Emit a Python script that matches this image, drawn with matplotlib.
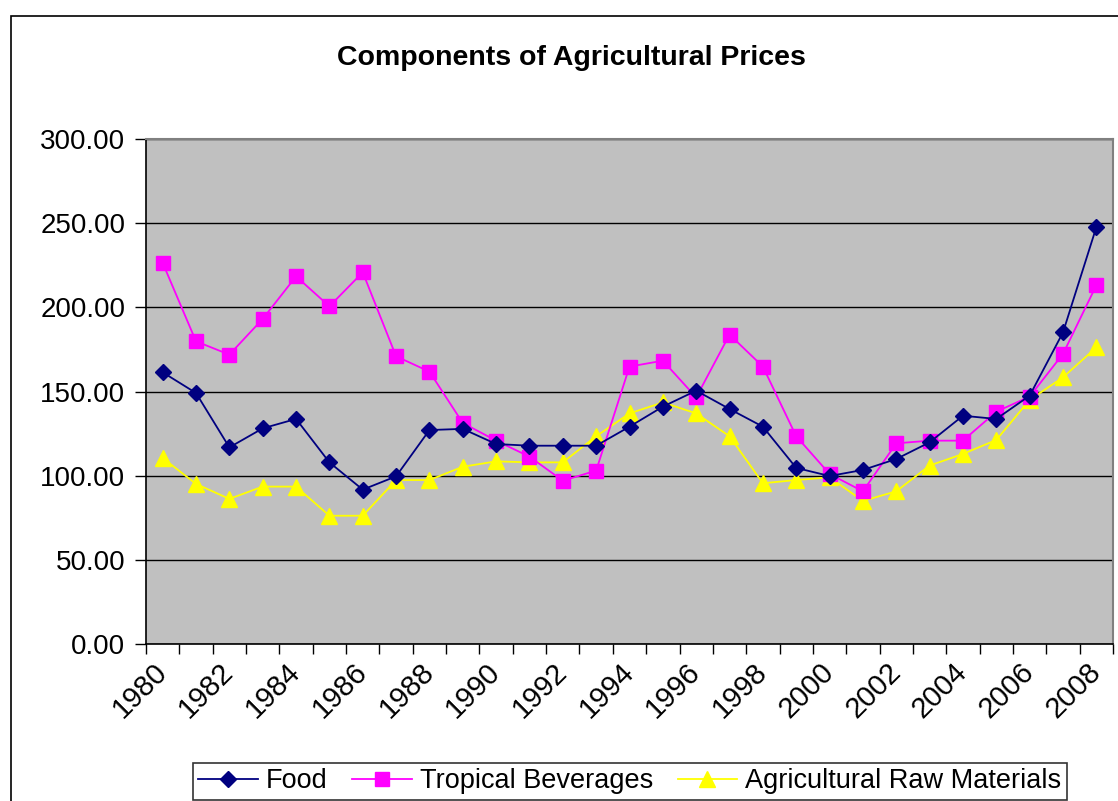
import numpy as np
import matplotlib
matplotlib.use('Agg')
import matplotlib.pyplot as plt
from matplotlib.patches import Rectangle
from matplotlib.ticker import FixedLocator, FuncFormatter

# ─── DATA ───
years = list(range(1980, 2009))
food = [161.4, 149.1, 116.8, 128.1, 133.7, 107.9, 91.7, 99.6, 127.1, 127.8,
        118.8, 117.8, 117.8, 117.8, 129.1, 141.0, 150.5, 139.6, 129.1, 104.6,
        99.8, 103.4, 109.9, 119.8, 135.6, 133.7, 147.5, 185.1, 247.6]
tropical = [226.4, 179.8, 171.9, 193.1, 218.4, 200.6, 220.8, 170.9, 161.8, 131.3,
            120.8, 111.3, 97.0, 103.0, 164.8, 168.3, 146.5, 183.8, 164.8, 123.4,
            101.0, 90.7, 119.2, 120.8, 120.8, 138.0, 147.0, 172.3, 213.1]
raw_mat = [110.5, 95.1, 86.2, 93.5, 93.5, 76.2, 76.2, 97.4, 97.4, 105.3,
           108.5, 107.9, 107.9, 123.4, 137.0, 143.5, 137.0, 123.4, 95.5, 97.4,
           99.0, 85.0, 90.7, 106.0, 112.9, 121.2, 145.0, 158.4, 176.2]
series_names = ['Food', 'Tropical Beverages', 'Agricultural Raw Materials']
y_ticks = [0, 50, 100, 150, 200, 250, 300]

plt.rcParams['font.family'] = ['Liberation Sans', 'DejaVu Sans']

W, H = 1118, 801
fig = plt.figure(figsize=(W / 100, H / 100), dpi=100)
fig.patch.set_facecolor('white')

# border of the chart area (runs off the right and bottom of the image)
fig.patches.append(Rectangle((11 / W, -0.2), 1.2, 1 - 16 / H + 0.2,
                             transform=fig.transFigure, fill=False,
                             edgecolor='black', lw=1.2, clip_on=False))

ax = fig.add_axes([146 / W, 1 - 644 / H, (1113 - 146) / W, (644 - 139) / H])
ax.set_facecolor('#C0C0C0')

x = np.arange(len(years))
ax.plot(x, food, color='#000080', lw=1.3, marker='D', ms=8, label=series_names[0], zorder=5)
ax.plot(x, tropical, color='#FF00FF', lw=1.3, marker='s', ms=9.5, label=series_names[1], zorder=4)
ax.plot(x, raw_mat, color='#FFFF00', lw=1.3, marker='^', ms=11, label=series_names[2], zorder=3)

ax.set_xlim(-0.5, len(years) - 0.5)
ax.set_ylim(0, 300)
ax.yaxis.set_major_locator(FixedLocator(y_ticks))
ax.yaxis.set_major_formatter(FuncFormatter(lambda v, p: f'{v:.2f}'))
ax.grid(axis='y', color='black', lw=1.0)
ax.set_axisbelow(True)

# ticks at category boundaries, labels every other year at centers
ax.set_xticks(np.arange(len(years) + 1) - 0.5)
ax.set_xticklabels([])
ax.set_xticks(x[::2], minor=True)
ax.set_xticklabels([str(y) for y in years[::2]], minor=True, rotation=45,
                   ha='right', va='center', rotation_mode='anchor', fontsize=21)
ax.tick_params(axis='x', which='major', direction='out', length=7, width=1, color='black')
ax.tick_params(axis='x', which='minor', length=0, pad=17)
ax.tick_params(axis='y', direction='out', length=8, width=1, labelsize=20, pad=7)

for side in ['top', 'right']:
    ax.spines[side].set_color('#808080')
    ax.spines[side].set_linewidth(1.5)
for side in ['left', 'bottom']:
    ax.spines[side].set_color('black')
    ax.spines[side].set_linewidth(1.2)

fig.text(571 / W, 1 - 58 / H, 'Components of Agricultural Prices', ha='center', va='center',
         fontsize=20.5, fontweight='bold')

leg = fig.legend(loc='upper center', bbox_to_anchor=(630 / W, 1 - 763 / H), ncol=3,
                 fontsize=19.5, frameon=True, fancybox=False, edgecolor='black',
                 handlelength=2.2, handletextpad=0.3, columnspacing=0.9,
                 borderpad=0.2, borderaxespad=0)
leg.get_frame().set_linewidth(1.2)

fig.savefig('out.png', dpi=100)
